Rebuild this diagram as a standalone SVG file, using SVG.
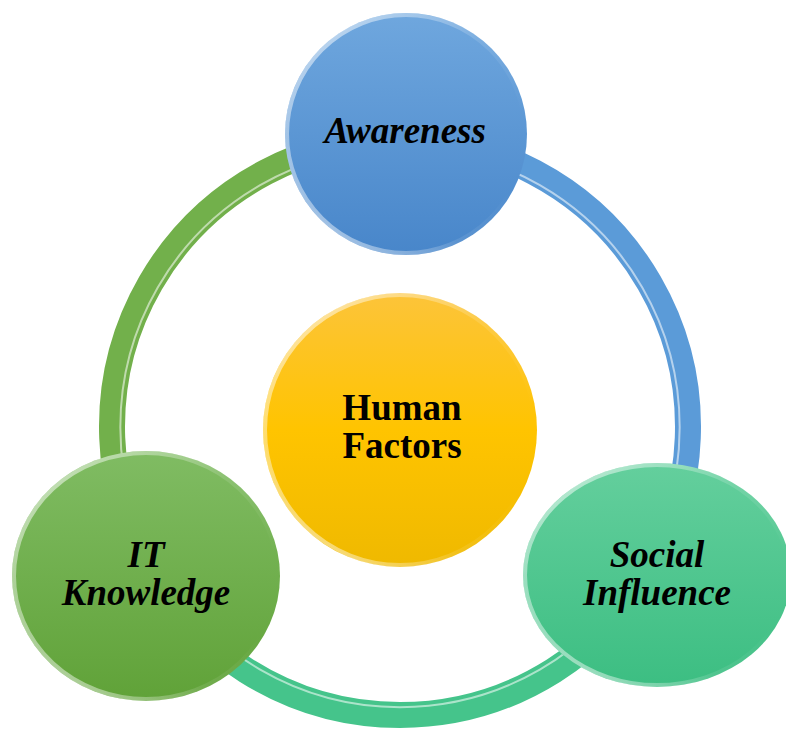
<svg xmlns="http://www.w3.org/2000/svg" width="786" height="733" viewBox="0 0 786 733">
<style>
  .lbl { font-family: "Liberation Serif", "Times New Roman", serif; font-size: 37px; font-weight: bold; fill: #000; text-anchor: middle; }
  .it { font-style: italic; }
  .ring { fill: none; stroke-width: 26; }
  .ringhl { fill: none; stroke-width: 2; stroke: #ffffff; stroke-opacity: 0.55; }
  .rim { fill: none; stroke-width: 4; }
</style>
<defs>
  <linearGradient id="gBlue" x1="0" y1="0" x2="0" y2="1">
    <stop offset="0" stop-color="#6fa7de"/>
    <stop offset="1" stop-color="#4886ca"/>
  </linearGradient>
  <linearGradient id="gGold" x1="0" y1="0" x2="0" y2="1">
    <stop offset="0" stop-color="#fcc43a"/>
    <stop offset="0.5" stop-color="#ffc400"/>
    <stop offset="1" stop-color="#efb900"/>
  </linearGradient>
  <linearGradient id="gGreen" x1="0" y1="0" x2="0" y2="1">
    <stop offset="0" stop-color="#80bc63"/>
    <stop offset="1" stop-color="#60a238"/>
  </linearGradient>
  <linearGradient id="gTeal" x1="0" y1="0" x2="0" y2="1">
    <stop offset="0" stop-color="#64cf9d"/>
    <stop offset="1" stop-color="#3cbe82"/>
  </linearGradient>
  <linearGradient id="rim" x1="0" y1="0" x2="1" y2="1">
    <stop offset="0" stop-color="#ffffff" stop-opacity="0.7"/>
    <stop offset="0.45" stop-color="#ffffff" stop-opacity="0.12"/>
    <stop offset="0.7" stop-color="#ffffff" stop-opacity="0"/>
  </linearGradient>
  <linearGradient id="rim2" x1="0" y1="1" x2="0.6" y2="0">
    <stop offset="0" stop-color="#ffffff" stop-opacity="0.7"/>
    <stop offset="0.35" stop-color="#ffffff" stop-opacity="0.1"/>
    <stop offset="0.6" stop-color="#ffffff" stop-opacity="0"/>
  </linearGradient>
</defs>
<rect width="786" height="733" fill="#ffffff"/>
<g id="connectors">
  <path class="ring" stroke="#72b04b" d="M150.6,571 A288,288 0 0 1 400,139"/>
  <path class="ring" stroke="#5b9bd8" d="M400,139 A288,288 0 0 1 649.4,571"/>
  <path class="ring" stroke="#45c48b" d="M649.4,571 A288,288 0 0 1 150.6,571"/>
  <path class="ringhl" d="M158,567 A279,279 0 0 1 400,148"/>
  <path class="ringhl" d="M400,148 A279,279 0 0 1 642,567"/>
  <path class="ringhl" d="M642,567 A279,279 0 0 1 158,567"/>
</g>
<g id="awareness">
  <circle cx="406" cy="134" r="121" fill="url(#gBlue)"/>
  <circle cx="406" cy="134" r="119" class="rim" stroke="url(#rim)"/>
  <circle cx="406" cy="134" r="119" class="rim" stroke="url(#rim2)"/>
  <text class="lbl it" x="405" y="143">Awareness</text>
</g>
<g id="human-factors">
  <circle cx="400" cy="430" r="137" fill="url(#gGold)"/>
  <circle cx="400" cy="430" r="135" class="rim" stroke="url(#rim)"/>
  <circle cx="400" cy="430" r="135" class="rim" stroke="url(#rim2)"/>
  <text class="lbl" x="402" y="420">Human</text>
  <text class="lbl" x="402" y="458">Factors</text>
</g>
<g id="it-knowledge">
  <ellipse cx="146" cy="576" rx="134" ry="125" fill="url(#gGreen)"/>
  <ellipse cx="146" cy="576" rx="132" ry="123" class="rim" stroke="url(#rim)"/>
  <ellipse cx="146" cy="576" rx="132" ry="123" class="rim" stroke="url(#rim2)"/>
  <text class="lbl it" x="146" y="567">IT</text>
  <text class="lbl it" x="146" y="605">Knowledge</text>
</g>
<g id="social-influence">
  <ellipse cx="657" cy="575" rx="134" ry="112" fill="url(#gTeal)"/>
  <ellipse cx="657" cy="575" rx="132" ry="110" class="rim" stroke="url(#rim)"/>
  <ellipse cx="657" cy="575" rx="132" ry="110" class="rim" stroke="url(#rim2)"/>
  <text class="lbl it" x="657" y="567">Social</text>
  <text class="lbl it" x="657" y="605">Influence</text>
</g>
</svg>
